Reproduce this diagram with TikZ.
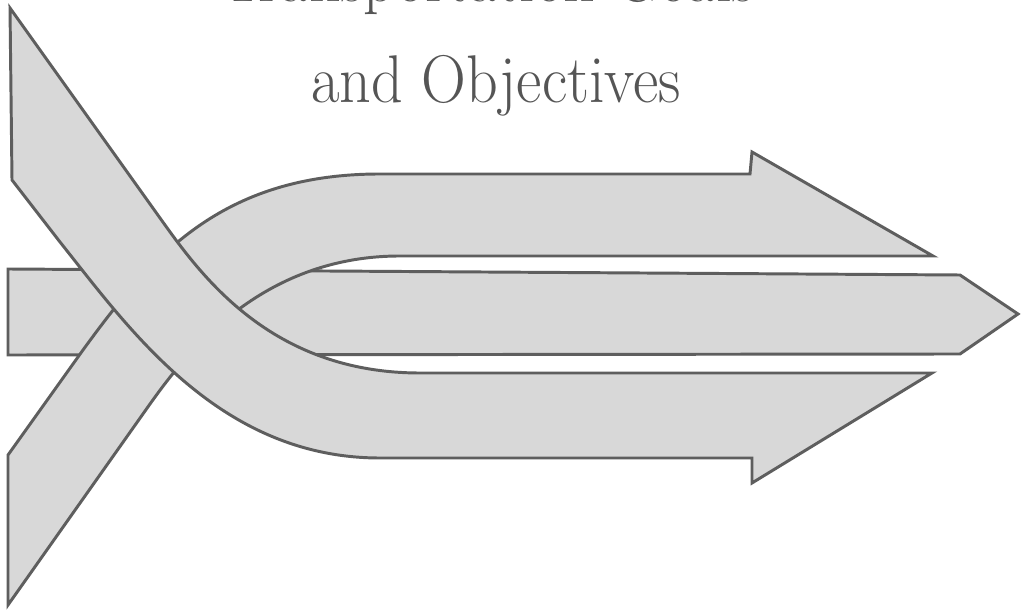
\documentclass[tikz,border=0pt]{standalone}
\usepackage{xcolor}
\usepackage{tikz}
\usetikzlibrary{calc}
\definecolor{bandfill}{HTML}{D8D8D8}
\definecolor{bandline}{HTML}{5E5E5E}
\definecolor{titlegray}{HTML}{555555}

\begin{document}
\begin{tikzpicture}[x=0.025cm, y=-0.025cm,
    band/.style={fill=bandfill, draw=bandline, line width=2.1pt, line join=miter},
    titletext/.style={anchor=base, inner sep=0pt, text=titlegray,
      font=\fontsize{48}{52}\selectfont}]
      \clip (0,0) rectangle (1021,615);
      \fill[white] (0,0) rectangle (1021,615);
      % title, first line cut off by the top edge
      \node[titletext] (titletop) at (488,2) {\scalebox{0.92}[1]{Transportation Goals}};
      \node[titletext] (titlebot) at (496,103) {\scalebox{0.92}[1]{and Objectives}};
      % middle band
      \draw[band] (8,269) -- (960,275) -- (1018,314) -- (960,354) -- (8,355) -- cycle;
      % band from lower left into the upper arrow
      \draw[band] (8,605) -- (8,455) -- (83,350)
        .. controls (150,258) and (220,174) .. (380,174)
        -- (750,174) -- (752,152) -- (933,256) -- (400,256)
        .. controls (260,256) and (185,355) .. (150,404) -- cycle;
      % band from upper left into the lower arrow
      \draw[band] (10,8) -- (160,218)
        .. controls (200,274) and (270,373) .. (420,373)
        -- (932,373) -- (752,483) -- (752,458) -- (380,458)
        .. controls (220,458) and (130,330) .. (60,242)
        -- (12,180) -- cycle;
\end{tikzpicture}
\end{document}
